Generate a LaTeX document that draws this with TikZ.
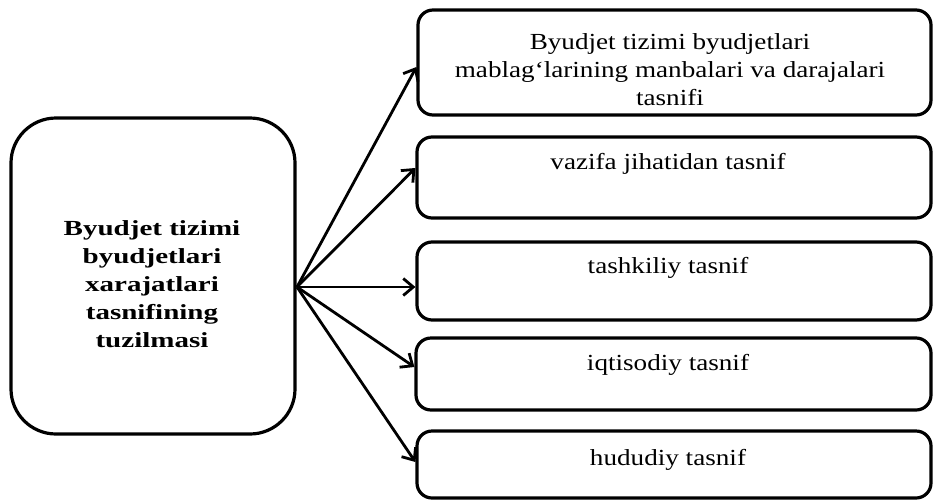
\documentclass[tikz,border=0pt]{standalone}
\usepackage{fontspec}
\setmainfont{Liberation Serif}
\newfontfamily\boxfont[FakeStretch=1.18]{Liberation Serif}
\newfontfamily\leftfont[FakeStretch=1.35]{Liberation Serif}
\usetikzlibrary{arrows.meta}
\begin{document}
\begin{tikzpicture}[x=1pt,y=-1pt,
  frame/.style={draw, line width=3.2pt, rounded corners=15pt, inner sep=0pt},
  bigframe/.style={draw, line width=3.2pt, rounded corners=45pt, inner sep=0pt},
  boxtext/.style={font=\boxfont\fontsize{23}{28}\selectfont, align=center, inner sep=0pt},
  lefttext/.style={font=\leftfont\bfseries\fontsize{21.5}{28}\selectfont, align=center, inner sep=0pt},
  conn/.style={line width=2.8pt, -{Straight Barb[length=10pt,width=17pt,line width=2.8pt]}}]
\useasboundingbox (0,0) rectangle (936,501);
\node[bigframe, minimum width=284pt, minimum height=316pt] (L) at (153,276) {};
\node[lefttext] (Lt) at (152,284) {Byudjet tizimi\\byudjetlari\\xarajatlari\\tasnifining\\tuzilmasi};
\node[frame, minimum width=513pt, minimum height=105pt] (b1) at (674.5,62.5) {};
\node[frame, minimum width=514pt, minimum height=81pt] (b2) at (674,177.5) {};
\node[frame, minimum width=514pt, minimum height=78pt] (b3) at (674,281) {};
\node[frame, minimum width=515pt, minimum height=72pt] (b4) at (673.5,374) {};
\node[frame, minimum width=514pt, minimum height=67pt] (b5) at (674,464.5) {};
\node[boxtext] (t1) at (670,70) {Byudjet tizimi byudjetlari\\mablag\textquoteleft larining manbalari va darajalari\\tasnifi};
\node[boxtext] (t2) at (668,164) {vazifa jihatidan tasnif};
\node[boxtext] (t3) at (668,268) {tashkiliy tasnif};
\node[boxtext] (t4) at (668,365) {iqtisodiy tasnif};
\node[boxtext] (t5) at (668,460) {hududiy tasnif};
\coordinate (o) at (297,287);
\draw[conn] (o) -- ([yshift=-4.5pt]b1.west);
\draw[conn] (o) -- ([yshift=9.5pt]b2.west);
\draw[conn] (o) -- ([yshift=-6pt]b3.west);
\draw[conn] (o) -- ([yshift=7pt]b4.west);
\draw[conn] (o) -- ([yshift=2.5pt]b5.west);
\end{tikzpicture}
\end{document}
